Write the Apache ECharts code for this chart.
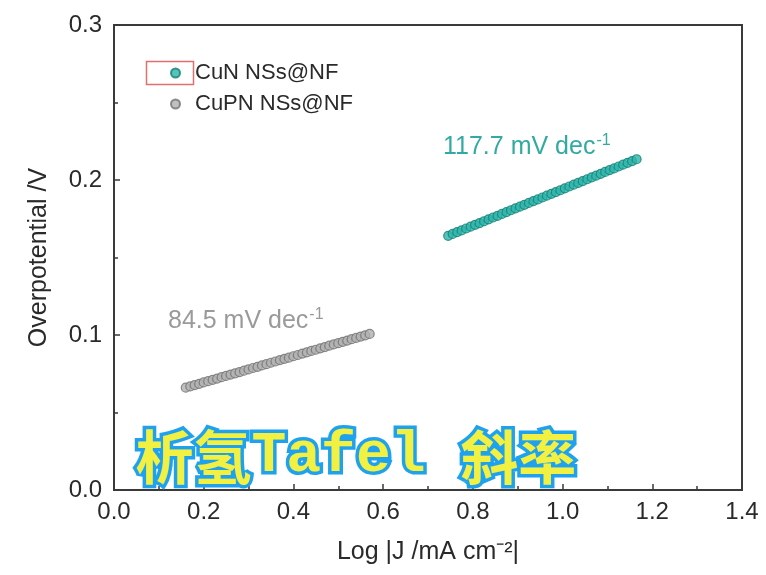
<!DOCTYPE html>
<html>
<head>
<meta charset="utf-8">
<script src="https://cdn.jsdelivr.net/npm/echarts@6/dist/echarts.min.js"></script>
<style>
html,body{margin:0;padding:0;background:#fff;}
#chart{width:766px;height:575px;}
</style>
</head>
<body>
<div id="chart"></div>
<script>
// ---- data ----
const seriesNames = ['CuN NSs@NF', 'CuPN NSs@NF'];
const cunX = [0.745,0.755,0.765,0.775,0.785,0.795,0.805,0.815,0.825,0.835,0.845,0.855,0.865,0.875,0.885,0.895,0.905,0.915,0.925,0.935,0.945,0.955,0.965,0.975,0.985,0.995,1.005,1.015,1.025,1.035,1.045,1.055,1.065,1.075,1.085,1.095,1.105,1.115,1.125,1.135,1.145,1.155,1.165];
const cunY = [0.1640,0.1652,0.1664,0.1675,0.1687,0.1699,0.1711,0.1722,0.1734,0.1746,0.1758,0.1769,0.1781,0.1793,0.1805,0.1817,0.1828,0.1840,0.1852,0.1864,0.1875,0.1887,0.1899,0.1911,0.1922,0.1934,0.1946,0.1958,0.1970,0.1981,0.1993,0.2005,0.2017,0.2028,0.2040,0.2052,0.2064,0.2075,0.2087,0.2099,0.2111,0.2122,0.2134];
const cupnX = [0.160,0.170,0.180,0.190,0.200,0.210,0.220,0.230,0.240,0.250,0.260,0.270,0.280,0.290,0.300,0.310,0.320,0.330,0.340,0.350,0.360,0.370,0.380,0.390,0.400,0.410,0.420,0.430,0.440,0.450,0.460,0.470,0.480,0.490,0.500,0.510,0.520,0.530,0.540,0.550,0.560,0.570];
const cupnY = [0.0660,0.0668,0.0677,0.0685,0.0694,0.0702,0.0711,0.0719,0.0728,0.0736,0.0745,0.0753,0.0761,0.0770,0.0778,0.0787,0.0795,0.0804,0.0812,0.0821,0.0829,0.0838,0.0846,0.0854,0.0863,0.0871,0.0880,0.0888,0.0897,0.0905,0.0914,0.0922,0.0931,0.0939,0.0947,0.0956,0.0964,0.0973,0.0981,0.0990,0.0998,0.1007];
const slopeLabels = ['117.7 mV dec', '84.5 mV dec'];
const xTicks = {min: 0, max: 1.4, interval: 0.2};
const yTicks = {min: 0, max: 0.3, interval: 0.1};

const zip = (xs, ys) => xs.map((x, i) => [x, ys[i]]);

const chart = echarts.init(document.getElementById('chart'));
const FF = 'Liberation Sans, Arial, sans-serif';
const axisFont = {fontFamily: FF, fontSize: 24, color: '#2a2a2a'};

chart.setOption({
  backgroundColor: '#fff',
  animation: false,
  grid: {left: 114, right: 24, top: 25, bottom: 85, show: true, borderColor: '#3a3a3a', borderWidth: 2, backgroundColor: 'transparent'},
  legend: {
    orient: 'vertical', left: 165, top: 57, itemGap: 9,
    itemWidth: 9, itemHeight: 9,
    data: [{name: seriesNames[0], icon: 'circle'}, {name: seriesNames[1], icon: 'circle'}],
    textStyle: {fontFamily: FF, fontSize: 22, color: '#2a2a2a', padding: [0, 0, 0, 10]}
  },
  xAxis: {
    type: 'value', min: xTicks.min, max: xTicks.max, interval: xTicks.interval,
    name: 'Log |J /mA cm⁻²|', nameLocation: 'middle', nameGap: 50,
    nameTextStyle: {fontFamily: FF, fontSize: 25, color: '#2a2a2a'},
    axisLine: {lineStyle: {color: '#3a3a3a', width: 2}},
    axisTick: {inside: true, length: 6, lineStyle: {color: '#3a3a3a', width: 1.5}},
    minorTick: {show: true, splitNumber: 2, length: 4, lineStyle: {color: '#3a3a3a', width: 1.5}},
    axisLabel: Object.assign({margin: 10, formatter: v => v.toFixed(1)}, axisFont),
    splitLine: {show: false}
  },
  yAxis: {
    type: 'value', min: yTicks.min, max: yTicks.max, interval: yTicks.interval,
    name: 'Overpotential /V', nameLocation: 'middle', nameGap: 62, nameRotate: 90,
    nameTextStyle: {fontFamily: FF, fontSize: 25, color: '#2a2a2a'},
    axisLine: {lineStyle: {color: '#3a3a3a', width: 2}},
    axisTick: {inside: true, length: 6, lineStyle: {color: '#3a3a3a', width: 1.5}},
    minorTick: {show: true, splitNumber: 2, length: 4, lineStyle: {color: '#3a3a3a', width: 1.5}},
    axisLabel: Object.assign({margin: 12, formatter: v => v.toFixed(1)}, axisFont),
    splitLine: {show: false}
  },
  series: [
    {
      name: seriesNames[0], type: 'scatter', data: zip(cunX, cunY),
      symbol: 'circle', symbolSize: 9,
      itemStyle: {color: '#2bb5aa', borderColor: '#137d74', borderWidth: 1.2}
    },
    {
      name: seriesNames[1], type: 'scatter', data: zip(cupnX, cupnY),
      symbol: 'circle', symbolSize: 9,
      itemStyle: {color: '#b0b0b0', borderColor: '#707070', borderWidth: 1.2}
    }
  ],
  graphic: [
    {type: 'rect', left: 144, top: 59, shape: {width: 47, height: 23}, style: {fill: 'none', stroke: '#e07070', lineWidth: 1.5}, z: 100},
    {
      type: 'text', left: 443, top: 133, z: 100,
      style: {
        text: '{a|' + slopeLabels[0] + '}{s|-1}',
        rich: {
          a: {fontFamily: FF, fontSize: 25, fill: '#32aaa2'},
          s: {fontFamily: FF, fontSize: 16, fill: '#32aaa2', verticalAlign: 'top', padding: [0, 0, 12, 1]}
        }
      }
    },
    {
      type: 'text', left: 168, top: 307, z: 100,
      style: {
        text: '{a|' + slopeLabels[1] + '}{s|-1}',
        rich: {
          a: {fontFamily: FF, fontSize: 25, fill: '#9a9a9a'},
          s: {fontFamily: FF, fontSize: 16, fill: '#9a9a9a', verticalAlign: 'top', padding: [0, 0, 12, 1]}
        }
      }
    },
    {
      type: 'text', left: 132, top: 424, z: 200,
      style: {
        text: '{c|析氢}{m|Tafel }{c|斜率}',
        fill: '#f2f040', stroke: '#1ea2f0', lineWidth: 7,
        rich: {
          c: {fontFamily: 'Noto Sans CJK SC', fontWeight: 'bold', fontSize: 58, fill: '#f2f040', stroke: '#1ea2f0', lineWidth: 7},
          m: {fontFamily: 'Liberation Mono, Courier New, monospace', fontWeight: 'bold', fontSize: 58, fill: '#f2f040', stroke: '#1ea2f0', lineWidth: 7}
        }
      }
    }
  ]
});
</script>
</body>
</html>
